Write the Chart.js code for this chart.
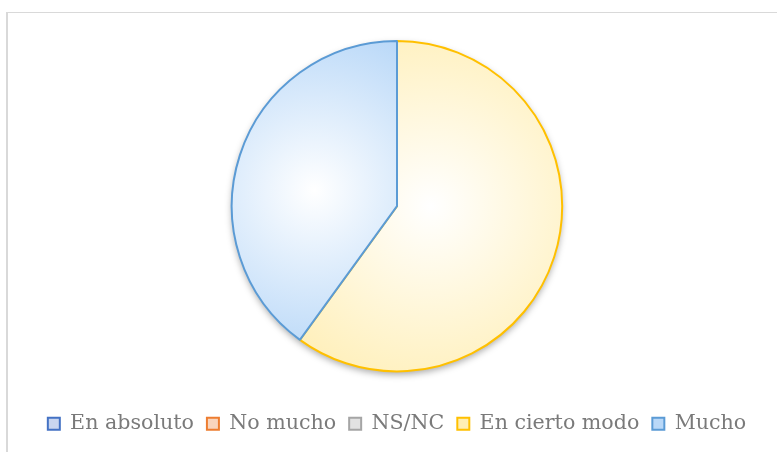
<!DOCTYPE html>
<html>
<head>
<meta charset="utf-8">
<script src="https://cdn.jsdelivr.net/npm/chart.js@4/dist/chart.umd.min.js"></script>
<style>
  html, body { margin: 0; padding: 0; background: #fff; }
  #wrap { position: relative; width: 777px; height: 452px; }
  #frame { position: absolute; left: 6px; top: 12px; right: 0; bottom: 0;
           border-left: 2px solid #d9d9d9; border-top: 1px solid #d9d9d9; }
  #pie { position: absolute; left: 0; top: 0; }
</style>
</head>
<body>
<div id="wrap">
  <div id="frame"></div>
  <canvas id="pie" width="777" height="452"></canvas>
</div>
<script>
const categories = ['En absoluto', 'No mucho', 'NS/NC', 'En cierto modo', 'Mucho'];
const values = [0, 0, 0, 60, 40];
const lineColors = ['#4472C4', '#ED7D31', '#A5A5A5', '#FFC000', '#5B9BD5'];
const tintColors = ['#c9d6f0', '#f9d5bd', '#e2e2e2', '#ffeeb3', '#b9d8f8'];

// radial fill per slice, brightest in the middle of the slice's bounding box
function sliceFill(ctx) {
  const i = ctx.dataIndex;
  const chart = ctx.chart;
  const area = chart.chartArea;
  if (!area || values[i] === 0) return tintColors[i];
  const cx = (area.left + area.right) / 2;
  const cy = (area.top + area.bottom) / 2;
  const r = Math.min(area.right - area.left, area.bottom - area.top) / 2 - 1;
  const total = values.reduce((a, b) => a + b, 0);
  let start = -Math.PI / 2;
  for (let k = 0; k < i; k++) start += values[k] / total * Math.PI * 2;
  const end = start + values[i] / total * Math.PI * 2;

  const pts = [[cx, cy], [cx + r * Math.cos(start), cy + r * Math.sin(start)],
               [cx + r * Math.cos(end), cy + r * Math.sin(end)]];
  for (let a = -Math.PI; a <= 2 * Math.PI; a += Math.PI / 2) {
    if (a > start && a < end) pts.push([cx + r * Math.cos(a), cy + r * Math.sin(a)]);
  }
  const xs = pts.map(p => p[0]), ys = pts.map(p => p[1]);
  const x0 = Math.min(...xs), x1 = Math.max(...xs), y0 = Math.min(...ys), y1 = Math.max(...ys);
  const gx = (x0 + x1) / 2, gy = (y0 + y1) / 2;
  const gr = Math.hypot(x1 - x0, y1 - y0) / 2;
  const g = chart.ctx.createRadialGradient(gx, gy, 0, gx, gy, gr);
  g.addColorStop(0, '#ffffff');
  g.addColorStop(1, tintColors[i]);
  return g;
}

// soft shadow under the whole pie
const pieShadow = {
  id: 'pieShadow',
  beforeDatasetsDraw(chart) {
    const a = chart.chartArea;
    const c = chart.ctx;
    const cx = (a.left + a.right) / 2, cy = (a.top + a.bottom) / 2;
    const r = Math.min(a.right - a.left, a.bottom - a.top) / 2 - 1;
    c.save();
    c.shadowColor = 'rgba(0,0,0,0.35)';
    c.shadowBlur = 7;
    c.shadowOffsetY = 3;
    c.beginPath();
    c.arc(cx, cy, r, 0, Math.PI * 2);
    c.fillStyle = '#ffffff';
    c.fill();
    c.restore();
  }
};

new Chart(document.getElementById('pie'), {
  type: 'pie',
  data: {
    labels: categories,
    datasets: [{
      data: values,
      backgroundColor: sliceFill,
      borderColor: lineColors,
      borderWidth: values.map(v => v === 0 ? 0 : 2)
    }]
  },
  options: {
    responsive: false,
    devicePixelRatio: 1,
    animation: false,
    layout: { padding: { top: 40, left: 20, right: 3, bottom: 8 } },
    plugins: {
      tooltip: { enabled: false },
      legend: {
        position: 'bottom',
        // empty title only adds room between the pie and the legend row
        title: { display: true, text: '', font: { size: 10 }, padding: 8 },
        labels: {
          font: { family: 'DejaVu Serif', size: 20.6 },
          color: '#7a7a7a',
          boxWidth: 12,
          boxHeight: 12,
          padding: 13,
          generateLabels: () => categories.map((name, i) => ({
            text: name,
            fillStyle: tintColors[i],
            strokeStyle: lineColors[i],
            fontColor: '#7a7a7a',
            lineWidth: 2,
            hidden: false,
            index: i
          }))
        }
      }
    }
  },
  plugins: [pieShadow]
});
</script>
</body>
</html>
